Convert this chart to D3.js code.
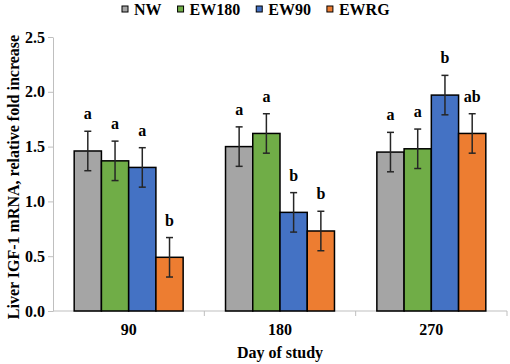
<!DOCTYPE html>
<html>
<head>
<meta charset="utf-8">
<script src="https://cdn.jsdelivr.net/npm/d3@7"></script>
<style>
  body { margin: 0; background: #fff; }
  svg text { font-family: 'Liberation Serif', serif !important; font-weight: bold; fill: #000; }
</style>
</head>
<body>
<div id="chart"></div>
<script>
// data
const days = ['90', '180', '270'];
const groups = ['NW', 'EW180', 'EW90', 'EWRG'];
const colors = ['#A5A5A5', '#70AD47', '#4472C4', '#ED7D31'];
const means = {
  NW:    [1.46, 1.50, 1.45],
  EW180: [1.37, 1.62, 1.48],
  EW90:  [1.31, 0.90, 1.97],
  EWRG:  [0.49, 0.73, 1.62]
};
const errs = {
  NW:    [0.18, 0.18, 0.18],
  EW180: [0.18, 0.18, 0.18],
  EW90:  [0.18, 0.18, 0.18],
  EWRG:  [0.18, 0.18, 0.18]
};
const letters = {
  NW:    ['a', 'a', 'a'],
  EW180: ['a', 'a', 'a'],
  EW90:  ['a', 'b', 'b'],
  EWRG:  ['b', 'b', 'ab']
};
const yTicks = [0, 0.5, 1.0, 1.5, 2.0, 2.5];

const width = 510, height = 364;
const margin = { top: 37, right: 3, bottom: 53, left: 53 };
const serif = "'Liberation Serif', serif";

const svg = d3.select('#chart').append('svg')
  .attr('width', width)
  .attr('height', height);

const x0 = d3.scaleBand()
  .domain(days)
  .range([margin.left, width - margin.right])
  .paddingInner(0.28)
  .paddingOuter(0.14);

const x1 = d3.scaleBand()
  .domain(groups)
  .range([0, x0.bandwidth()]);

const y = d3.scaleLinear()
  .domain([0, 2.5])
  .range([height - margin.bottom, margin.top]);

const color = d3.scaleOrdinal().domain(groups).range(colors);

// y axis
const yAxis = svg.append('g')
  .attr('transform', `translate(${margin.left},0)`)
  .call(d3.axisLeft(y).tickValues(yTicks).tickFormat(d3.format('.1f')).tickSize(5).tickSizeOuter(0))
  .attr('font-family', serif);
yAxis.selectAll('path, line').attr('stroke', '#bfbfbf');
yAxis.selectAll('text')
  .style('font-family', serif)
  .style('font-size', '16px')
  .attr('x', -8);

// x axis line with ticks at category boundaries
const xAxis = svg.append('g');
xAxis.append('line')
  .attr('x1', margin.left).attr('x2', width - margin.right)
  .attr('y1', y(0)).attr('y2', y(0))
  .attr('stroke', '#bfbfbf');
const step = x0.step();
xAxis.selectAll('.xtick')
  .data(days)
  .join('line')
  .attr('class', 'xtick')
  .attr('x1', (d, i) => margin.left + step * (i + 1))
  .attr('x2', (d, i) => margin.left + step * (i + 1))
  .attr('y1', y(0)).attr('y2', y(0) + 5)
  .attr('stroke', '#bfbfbf');
xAxis.selectAll('.xlabel')
  .data(days)
  .join('text')
  .attr('class', 'xlabel')
  .attr('x', d => x0(d) + x0.bandwidth() / 2)
  .attr('y', y(0) + 24)
  .attr('text-anchor', 'middle')
  .style('font-size', '16px')
  .text(d => d);

// axis titles
svg.append('text')
  .attr('x', (margin.left + width - margin.right) / 2)
  .attr('y', 358)
  .attr('text-anchor', 'middle')
  .style('font-size', '16px')
  .text('Day of study');

svg.append('text')
  .attr('transform', `translate(19,${(y(0) + y(2.5)) / 2 + 3}) rotate(-90)`)
  .attr('text-anchor', 'middle')
  .style('font-size', '16px')
  .text('Liver IGF-1 mRNA, relative fold increase');

// bars
const rows = [];
days.forEach((day, i) => {
  groups.forEach(g => {
    rows.push({ day, g, v: means[g][i], e: errs[g][i], l: letters[g][i] });
  });
});

const barG = svg.append('g');
barG.selectAll('rect')
  .data(rows)
  .join('rect')
  .attr('x', d => x0(d.day) + x1(d.g))
  .attr('y', d => y(d.v))
  .attr('width', x1.bandwidth())
  .attr('height', d => y(0) - y(d.v))
  .attr('fill', d => color(d.g))
  .attr('stroke', '#000')
  .attr('stroke-width', 1.5);

// error bars
const errG = svg.append('g')
  .attr('stroke', '#262626')
  .attr('stroke-width', 1.5);
const cx = d => x0(d.day) + x1(d.g) + x1.bandwidth() / 2;
errG.selectAll('.stem')
  .data(rows)
  .join('line')
  .attr('x1', cx).attr('x2', cx)
  .attr('y1', d => y(d.v - d.e)).attr('y2', d => y(d.v + d.e));
errG.selectAll('.capTop')
  .data(rows)
  .join('line')
  .attr('x1', d => cx(d) - 3.5).attr('x2', d => cx(d) + 3.5)
  .attr('y1', d => y(d.v + d.e)).attr('y2', d => y(d.v + d.e));
errG.selectAll('.capBot')
  .data(rows)
  .join('line')
  .attr('x1', d => cx(d) - 3.5).attr('x2', d => cx(d) + 3.5)
  .attr('y1', d => y(d.v - d.e)).attr('y2', d => y(d.v - d.e));

// significance letters
svg.append('g').selectAll('text')
  .data(rows)
  .join('text')
  .attr('x', cx)
  .attr('y', d => y(d.v + d.e) - 12)
  .attr('text-anchor', 'middle')
  .style('font-size', '16px')
  .text(d => d.l);

// legend
const legend = svg.append('g');
let lx = 122;
groups.forEach(g => {
  const item = legend.append('g');
  item.append('rect')
    .attr('x', lx).attr('y', 6)
    .attr('width', 6).attr('height', 6)
    .attr('fill', color(g))
    .attr('stroke', '#000')
    .attr('stroke-width', 1);
  const t = item.append('text')
    .attr('x', lx + 12)
    .attr('y', 15)
    .style('font-size', '16px')
    .text(g);
  lx += 12 + t.node().getComputedTextLength() + 16;
});
</script>
</body>
</html>
